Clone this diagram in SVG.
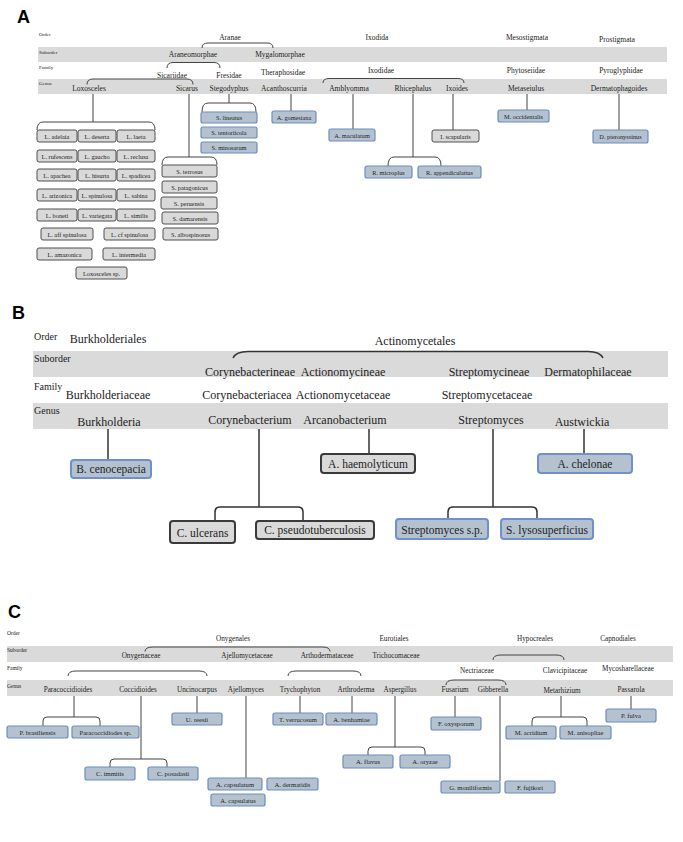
<svg xmlns="http://www.w3.org/2000/svg" width="683" height="842" viewBox="0 0 683 842">
<style>
text{font-family:"Liberation Serif","DejaVu Serif",serif;fill:#222}
.pl{font-family:"Liberation Sans",Arial,sans-serif;font-weight:bold;font-size:18px;fill:#000}
.band{fill:#dadada}
.ra{font-size:5px}
.ta{font-size:7.5px;text-anchor:middle}
.xa{font-size:6.3px;text-anchor:middle}
.rb{font-size:10px}
.tb{font-size:12px;text-anchor:middle}
.xb{font-size:11.5px;text-anchor:middle}
.rc{font-size:5.5px}
.tc{font-size:7.2px;text-anchor:middle}
.xc{font-size:6.6px;text-anchor:middle}
.g{fill:#d9d9d9;stroke:#505050;stroke-width:1}
.b{fill:#b4c2d0;stroke:#6f8cbf;stroke-width:1.2}
.gB{fill:#d9d9d9;stroke:#3a3a3a;stroke-width:2}
.bB{fill:#b4c2d0;stroke:#6f8fd0;stroke-width:2}
.ln{fill:none;stroke:#444;stroke-width:1}
.lnB{fill:none;stroke:#333;stroke-width:1.5}
</style>
<rect width="683" height="842" fill="#fff"/>

<!-- ============ PANEL A ============ -->
<text class="pl" x="17" y="23">A</text>
<rect class="band" x="38" y="47" width="629" height="15"/>
<rect class="band" x="38" y="79" width="629" height="15"/>
<text class="ra" x="39" y="36">Order</text>
<text class="ra" x="39" y="53.5">Suborder</text>
<text class="ra" x="39" y="69">Family</text>
<text class="ra" x="39" y="84.5">Genus</text>

<g id="connectors-a">
<path class="ln" d="M202 48 Q202 43 208 43 H267 Q273 43 273 48"/>
<path class="ln" d="M167 68 Q167 62.5 173 62.5 H214 Q220 62.5 220 68"/>
<path class="ln" d="M87 84.5 Q87 79 93 79 H187 Q193 79 193 84.5"/>
<path class="ln" d="M323 83 Q323 78.5 329 78.5 H458 Q464 78.5 464 83"/>
<path class="ln" d="M93 94 V122"/>
<path class="ln" d="M37 130 Q37 122 43 122 H149 Q155 122 155 130"/>
<path class="ln" d="M189 94 V157"/>
<path class="ln" d="M162 165 Q162 157 168 157 H211 Q217 157 217 165"/>
<path class="ln" d="M229 94 V103"/>
<path class="ln" d="M202 112 Q202 103 208 103 H250 Q256 103 256 112"/>
<path class="ln" d="M291 94 V111"/>
<path class="ln" d="M353 94 V129"/>
<path class="ln" d="M413 94 V157"/>
<path class="ln" d="M388 166 Q388 157 394 157 H435 Q441 157 441 166"/>
<path class="ln" d="M453 94 V130"/>
<path class="ln" d="M527 94 V110"/>
<path class="ln" d="M619 94 V130"/>
</g>

<g id="a-aranae"><text class="ta" x="230" y="40">Aranae</text></g>
<g id="a-ixodida"><text class="ta" x="377" y="40">Ixodida</text></g>
<g id="a-mesostigmata"><text class="ta" x="527" y="40">Mesostigmata</text></g>
<g id="a-prostigmata"><text class="ta" x="617" y="42">Prostigmata</text></g>
<g id="a-araneomorphae"><text class="ta" x="193" y="57">Araneomorphae</text></g>
<g id="a-mygalomorphae"><text class="ta" x="280" y="57">Mygalomorphae</text></g>
<g id="a-sicariidae"><text class="ta" x="172" y="77.5">Sicariidae</text></g>
<g id="a-fresidae"><text class="ta" x="229" y="77.5">Fresidae</text></g>
<g id="a-theraphosidae"><text class="ta" x="283" y="74.5">Theraphosidae</text></g>
<g id="a-ixodidae"><text class="ta" x="381" y="73">Ixodidae</text></g>
<g id="a-phytoseiidae"><text class="ta" x="526" y="73">Phytoseiidae</text></g>
<g id="a-pyroglyphidae"><text class="ta" x="621" y="73">Pyroglyphidae</text></g>
<g id="a-loxosceles"><text class="ta" x="89" y="91">Loxosceles</text></g>
<g id="a-sicarus"><text class="ta" x="187" y="91">Sicarus</text></g>
<g id="a-stegodyphus"><text class="ta" x="229" y="91">Stegodyphus</text></g>
<g id="a-acanthoscurria"><text class="ta" x="284" y="91">Acanthoscurria</text></g>
<g id="a-amblyomma"><text class="ta" x="349" y="91">Amblyomma</text></g>
<g id="a-rhicephalus"><text class="ta" x="413" y="91">Rhicephalus</text></g>
<g id="a-ixoides"><text class="ta" x="457" y="91">Ixoides</text></g>
<g id="a-metaseiulus"><text class="ta" x="526" y="91">Metaseiulus</text></g>
<g id="a-dermatophagoides"><text class="ta" x="619" y="91">Dermatophagoides</text></g>

<!-- Loxosceles species -->
<g id="a-l-adelaia"><rect class="g" x="37" y="130" width="40" height="12" rx="2"/><text class="xa" x="57" y="138.5">L. adelaia</text></g>
<g id="a-l-deserta"><rect class="g" x="78" y="130" width="38" height="12" rx="2"/><text class="xa" x="97" y="138.5">L. deserta</text></g>
<g id="a-l-laeta"><rect class="g" x="117" y="130" width="38" height="12" rx="2"/><text class="xa" x="136" y="138.5">L. laeta</text></g>
<g id="a-l-rufescens"><rect class="g" x="37" y="150" width="40" height="12" rx="2"/><text class="xa" x="57" y="158.5">L. rufescens</text></g>
<g id="a-l-gaucho"><rect class="g" x="78" y="150" width="38" height="12" rx="2"/><text class="xa" x="97" y="158.5">L. gaucho</text></g>
<g id="a-l-reclusa"><rect class="g" x="117" y="150" width="38" height="12" rx="2"/><text class="xa" x="136" y="158.5">L. reclusa</text></g>
<g id="a-l-apachea"><rect class="g" x="37" y="169" width="40" height="12" rx="2"/><text class="xa" x="57" y="177.5">L. apachea</text></g>
<g id="a-l-hisurta"><rect class="g" x="78" y="169" width="38" height="12" rx="2"/><text class="xa" x="97" y="177.5">L. hisurta</text></g>
<g id="a-l-spadicea"><rect class="g" x="117" y="169" width="38" height="12" rx="2"/><text class="xa" x="136" y="177.5">L. spadicea</text></g>
<g id="a-l-arizonica"><rect class="g" x="37" y="189" width="40" height="12" rx="2"/><text class="xa" x="57" y="197.5">L. arizonica</text></g>
<g id="a-l-spinulosa"><rect class="g" x="78" y="189" width="38" height="12" rx="2"/><text class="xa" x="97" y="197.5">L. spinulosa</text></g>
<g id="a-l-sabina"><rect class="g" x="117" y="189" width="38" height="12" rx="2"/><text class="xa" x="136" y="197.5">L. sabina</text></g>
<g id="a-l-boneti"><rect class="g" x="37" y="209" width="40" height="12" rx="2"/><text class="xa" x="57" y="217.5">L. boneti</text></g>
<g id="a-l-variegata"><rect class="g" x="78" y="209" width="38" height="12" rx="2"/><text class="xa" x="97" y="217.5">L. variegata</text></g>
<g id="a-l-similis"><rect class="g" x="117" y="209" width="38" height="12" rx="2"/><text class="xa" x="136" y="217.5">L. similis</text></g>
<g id="a-l-aff-spinulosa"><rect class="g" x="41" y="228" width="52" height="12" rx="2"/><text class="xa" x="67" y="236.5">L. aff spinulosa</text></g>
<g id="a-l-cf-spinulosa"><rect class="g" x="104" y="228" width="51" height="12" rx="2"/><text class="xa" x="129.5" y="236.5">L. cf spinulosa</text></g>
<g id="a-l-amazonica"><rect class="g" x="37" y="248" width="55" height="12" rx="2"/><text class="xa" x="64.5" y="256.5">L. amazonica</text></g>
<g id="a-l-intermedia"><rect class="g" x="103" y="248" width="52" height="12" rx="2"/><text class="xa" x="129" y="256.5">L. intermedia</text></g>
<g id="a-loxosceles-sp"><rect class="g" x="76" y="267" width="51" height="12" rx="2"/><text class="xa" x="101.5" y="275.5">Loxosceles sp.</text></g>

<!-- Sicarus species -->
<g id="a-s-terrosus"><rect class="g" x="162" y="165" width="55" height="12" rx="2"/><text class="xa" x="189.5" y="173.5">S. terrosus</text></g>
<g id="a-s-patagonicus"><rect class="g" x="162" y="181" width="55" height="12" rx="2"/><text class="xa" x="189.5" y="189.5">S. patagonicus</text></g>
<g id="a-s-peruensis"><rect class="g" x="161" y="197" width="56" height="12" rx="2"/><text class="xa" x="189" y="205.5">S. peruensis</text></g>
<g id="a-s-damarensis"><rect class="g" x="162" y="212" width="56" height="12" rx="2"/><text class="xa" x="190" y="220.5">S. damarensis</text></g>
<g id="a-s-albospinosus"><rect class="g" x="163" y="228" width="55" height="12" rx="2"/><text class="xa" x="190.5" y="236.5">S. albospinosus</text></g>

<!-- Stegodyphus species -->
<g id="a-s-lineatus"><rect class="b" x="201" y="112" width="56" height="11" rx="2"/><text class="xa" x="229" y="120">S. lineatus</text></g>
<g id="a-s-tentoriicola"><rect class="b" x="201" y="127" width="56" height="11" rx="2"/><text class="xa" x="229" y="135">S. tentoriicola</text></g>
<g id="a-s-minosarum"><rect class="b" x="201" y="142" width="56" height="11" rx="2"/><text class="xa" x="229" y="150">S. minosarum</text></g>

<g id="a-a-gomesiana"><rect class="b" x="272" y="111" width="44" height="12" rx="2"/><text class="xa" x="294" y="119.5">A. gomesiana</text></g>
<g id="a-a-maculatum"><rect class="b" x="329" y="129" width="46" height="12" rx="2"/><text class="xa" x="352" y="137.5">A. maculatum</text></g>
<g id="a-r-microplus"><rect class="b" x="365" y="166" width="47" height="12" rx="2"/><text class="xa" x="388.5" y="174.5">R. microplus</text></g>
<g id="a-r-appendiculattus"><rect class="b" x="418" y="166" width="63" height="12" rx="2"/><text class="xa" x="449.5" y="174.5">R. appendiculattus</text></g>
<g id="a-i-scapularis"><rect class="g" x="432" y="130" width="47" height="12" rx="2"/><text class="xa" x="455.5" y="138.5">I. scapularis</text></g>
<g id="a-m-occidentalis"><rect class="b" x="498" y="110" width="51" height="12" rx="2"/><text class="xa" x="523.5" y="118.5">M. occidentalis</text></g>
<g id="a-d-pteronyssinus"><rect class="b" x="593" y="130" width="55" height="13" rx="2"/><text class="xa" x="620.5" y="139">D. pteronyssinus</text></g>

<!-- ============ PANEL B ============ -->
<text class="pl" x="12" y="319">B</text>
<rect class="band" x="33" y="351" width="635" height="26"/>
<rect class="band" x="33" y="403" width="635" height="26"/>
<text class="rb" x="34" y="340">Order</text>
<text class="rb" x="34" y="362">Suborder</text>
<text class="rb" x="34" y="390">Family</text>
<text class="rb" x="34" y="414">Genus</text>

<g id="connectors-b">
<path class="lnB" d="M233 358 Q236 351.5 248 351.5 H588 Q600 351.5 603 358"/>
<path class="lnB" d="M108 429 V460"/>
<path class="lnB" d="M259 429 V507"/>
<path class="lnB" d="M215 521 V512 Q215 507 220 507 H298 Q303 507 303 512 V521"/>
<path class="lnB" d="M369 429 V454"/>
<path class="lnB" d="M493 429 V507"/>
<path class="lnB" d="M448 519 V512 Q448 507 453 507 H532 Q537 507 537 512 V519"/>
<path class="lnB" d="M584 429 V454"/>
</g>

<g id="b-burkholderiales"><text class="tb" x="108" y="343">Burkholderiales</text></g>
<g id="b-actinomycetales"><text class="tb" x="415" y="345">Actinomycetales</text></g>
<g id="b-corynebacterineae"><text class="tb" x="250" y="376">Corynebacterineae</text></g>
<g id="b-actionomycineae"><text class="tb" x="343" y="376">Actionomycineae</text></g>
<g id="b-streptomycineae"><text class="tb" x="489" y="376">Streptomycineae</text></g>
<g id="b-dermatophilaceae"><text class="tb" x="588" y="376">Dermatophilaceae</text></g>
<g id="b-burkholderiaceae"><text class="tb" x="108" y="399">Burkholderiaceae</text></g>
<g id="b-corynebacteriacea"><text class="tb" x="247" y="399">Corynebacteriacea</text></g>
<g id="b-actionomycetaceae"><text class="tb" x="343" y="399">Actionomycetaceae</text></g>
<g id="b-streptomycetaceae"><text class="tb" x="487" y="399">Streptomycetaceae</text></g>
<g id="b-burkholderia"><text class="tb" x="109" y="426">Burkholderia</text></g>
<g id="b-corynebacterium"><text class="tb" x="250" y="424">Corynebacterium</text></g>
<g id="b-arcanobacterium"><text class="tb" x="345" y="424">Arcanobacterium</text></g>
<g id="b-streptomyces"><text class="tb" x="491" y="424">Streptomyces</text></g>
<g id="b-austwickia"><text class="tb" x="582" y="426">Austwickia</text></g>

<g id="b-b-cenocepacia"><rect class="bB" x="71" y="460" width="80" height="18" rx="3"/><text class="xb" x="111" y="473">B. cenocepacia</text></g>
<g id="b-a-haemolyticum"><rect class="gB" x="321" y="454" width="94" height="19" rx="3"/><text class="xb" x="368" y="468">A. haemolyticum</text></g>
<g id="b-a-chelonae"><rect class="bB" x="538" y="454" width="94" height="19" rx="3"/><text class="xb" x="585" y="468">A. chelonae</text></g>
<g id="b-c-ulcerans"><rect class="gB" x="170" y="521" width="65" height="22" rx="3"/><text class="xb" x="202.5" y="537">C. ulcerans</text></g>
<g id="b-c-pseudotuberculosis"><rect class="gB" x="256" y="521" width="118" height="18" rx="3"/><text class="xb" x="315" y="534">C. pseudotuberculosis</text></g>
<g id="b-streptomyces-sp"><rect class="bB" x="396" y="519" width="92" height="20" rx="3"/><text class="xb" x="442" y="534">Streptomyces s.p.</text></g>
<g id="b-s-lysosuperficius"><rect class="bB" x="501" y="519" width="92" height="20" rx="3"/><text class="xb" x="547" y="534">S. lysosuperficius</text></g>

<!-- ============ PANEL C ============ -->
<text class="pl" x="8" y="618">C</text>
<rect class="band" x="7" y="646" width="666" height="16"/>
<rect class="band" x="7" y="680" width="666" height="16"/>
<text class="rc" x="7" y="635">Order</text>
<text class="rc" x="7" y="652">Suborder</text>
<text class="rc" x="7" y="670">Family</text>
<text class="rc" x="7" y="688">Genus</text>

<g id="connectors-c">
<path class="ln" d="M145 651.5 Q145 647 153 647 H322 Q330 647 330 651.5"/>
<path class="ln" d="M493 660 Q493 655 501 655 H556 Q564 655 564 660"/>
<path class="ln" d="M68 676 Q68 671 76 671 H199 Q207 671 207 676"/>
<path class="ln" d="M288 676 Q288 671 296 671 H353 Q361 671 361 676"/>
<path class="ln" d="M446 685 Q446 680 454 680 H498 Q506 680 506 685"/>
<path class="ln" d="M74 696 V717"/>
<path class="ln" d="M43 726 V721 Q43 717 47 717 H96 Q100 717 100 721 V726"/>
<path class="ln" d="M141 696 V759"/>
<path class="ln" d="M110 767 V763 Q110 759 114 759 H163 Q167 759 167 763 V767"/>
<path class="ln" d="M197 696 V713"/>
<path class="ln" d="M246 696 V778"/>
<path class="ln" d="M300 696 V713"/>
<path class="ln" d="M352 696 V713"/>
<path class="ln" d="M395 696 V747"/>
<path class="ln" d="M368 755 V751 Q368 747 372 747 H421 Q425 747 425 751 V755"/>
<path class="ln" d="M455 696 V717"/>
<path class="ln" d="M500 696 V781"/>
<path class="ln" d="M561 696 V717"/>
<path class="ln" d="M532 726 V721 Q532 717 536 717 H583 Q587 717 587 721 V726"/>
<path class="ln" d="M631 696 V709"/>
</g>

<g id="c-onygenales"><text class="tc" x="233" y="641">Onygenales</text></g>
<g id="c-eurotiales"><text class="tc" x="394" y="641">Eurotiales</text></g>
<g id="c-hypocreales"><text class="tc" x="535" y="641">Hypocreales</text></g>
<g id="c-capnodiales"><text class="tc" x="618" y="641">Capnodiales</text></g>
<g id="c-onygenaceae"><text class="tc" x="141" y="658">Onygenaceae</text></g>
<g id="c-ajellomycetaceae"><text class="tc" x="247" y="658">Ajellomycetaceae</text></g>
<g id="c-arthodermataceae"><text class="tc" x="327" y="658">Arthodermataceae</text></g>
<g id="c-trichocomaceae"><text class="tc" x="396" y="658">Trichocomaceae</text></g>
<g id="c-nectriaceae"><text class="tc" x="477" y="673">Nectriaceae</text></g>
<g id="c-clavicipitaceae"><text class="tc" x="565" y="673">Clavicipitaceae</text></g>
<g id="c-mycosharellaceae"><text class="tc" x="628" y="671">Mycosharellaceae</text></g>
<g id="c-paracoccidioides"><text class="tc" x="68" y="692">Paracoccidioides</text></g>
<g id="c-coccidioides"><text class="tc" x="138" y="692">Coccidioides</text></g>
<g id="c-uncinocarpus"><text class="tc" x="197" y="692">Uncinocarpus</text></g>
<g id="c-ajellomyces"><text class="tc" x="246" y="692">Ajellomyces</text></g>
<g id="c-trychophyton"><text class="tc" x="300" y="692">Trychophyton</text></g>
<g id="c-arthroderma"><text class="tc" x="356" y="692">Arthroderma</text></g>
<g id="c-aspergillus"><text class="tc" x="400" y="692">Aspergillus</text></g>
<g id="c-fusarium"><text class="tc" x="455" y="692">Fusarium</text></g>
<g id="c-gibberella"><text class="tc" x="493" y="692">Gibberella</text></g>
<g id="c-metarhizium"><text class="tc" x="562" y="693">Metarhizium</text></g>
<g id="c-passarola"><text class="tc" x="631" y="692">Passarola</text></g>

<g id="c-p-brasiliensis"><rect class="b" x="7" y="726" width="61" height="12" rx="2"/><text class="xc" x="37.5" y="734.5">P. brasiliensis</text></g>
<g id="c-paracoccidiodes-sp"><rect class="b" x="72" y="726" width="67" height="12" rx="2"/><text class="xc" x="105.5" y="734.5">Paracoccidiodes sp.</text></g>
<g id="c-c-immitis"><rect class="b" x="85" y="767" width="50" height="13" rx="2"/><text class="xc" x="110" y="776">C. immitis</text></g>
<g id="c-c-posadasii"><rect class="b" x="148" y="767" width="50" height="13" rx="2"/><text class="xc" x="173" y="776">C. posadasii</text></g>
<g id="c-u-reesii"><rect class="b" x="172" y="713" width="50" height="12" rx="2"/><text class="xc" x="197" y="721.5">U. reesii</text></g>
<g id="c-t-verrucosum"><rect class="b" x="273" y="713" width="50" height="12" rx="2"/><text class="xc" x="298" y="721.5">T. verrucosum</text></g>
<g id="c-a-benhamiae"><rect class="b" x="326" y="713" width="51" height="12" rx="2"/><text class="xc" x="351.5" y="721.5">A. benhamiae</text></g>
<g id="c-a-flavus"><rect class="b" x="343" y="755" width="50" height="13" rx="2"/><text class="xc" x="368" y="764">A. flavus</text></g>
<g id="c-a-oryzae"><rect class="b" x="400" y="755" width="50" height="13" rx="2"/><text class="xc" x="425" y="764">A. oryzae</text></g>
<g id="c-f-oxysporum"><rect class="b" x="431" y="717" width="50" height="13" rx="2"/><text class="xc" x="456" y="726">F. oxysporum</text></g>
<g id="c-m-acridium"><rect class="b" x="506" y="726" width="50" height="13" rx="2"/><text class="xc" x="531" y="735">M. acridium</text></g>
<g id="c-m-anisopliae"><rect class="b" x="560" y="726" width="51" height="13" rx="2"/><text class="xc" x="585.5" y="735">M. anisopliae</text></g>
<g id="c-p-fulva"><rect class="b" x="606" y="709" width="50" height="13" rx="2"/><text class="xc" x="631" y="718">P. fulva</text></g>
<g id="c-a-capsulatum"><rect class="b" x="208" y="778" width="54" height="12" rx="2"/><text class="xc" x="235" y="786.5">A. capsulatum</text></g>
<g id="c-a-dermatidis"><rect class="b" x="267" y="778" width="51" height="12" rx="2"/><text class="xc" x="292.5" y="786.5">A. dermatidis</text></g>
<g id="c-a-capsulatus"><rect class="b" x="211" y="794" width="54" height="12" rx="2"/><text class="xc" x="238" y="802.5">A. capsulatus</text></g>
<g id="c-g-moniliformis"><rect class="b" x="441" y="781" width="59" height="12" rx="2"/><text class="xc" x="470.5" y="789.5">G. moniliformis</text></g>
<g id="c-f-fujikori"><rect class="b" x="505" y="781" width="50" height="12" rx="2"/><text class="xc" x="530" y="789.5">F. fujikori</text></g>
</svg>
